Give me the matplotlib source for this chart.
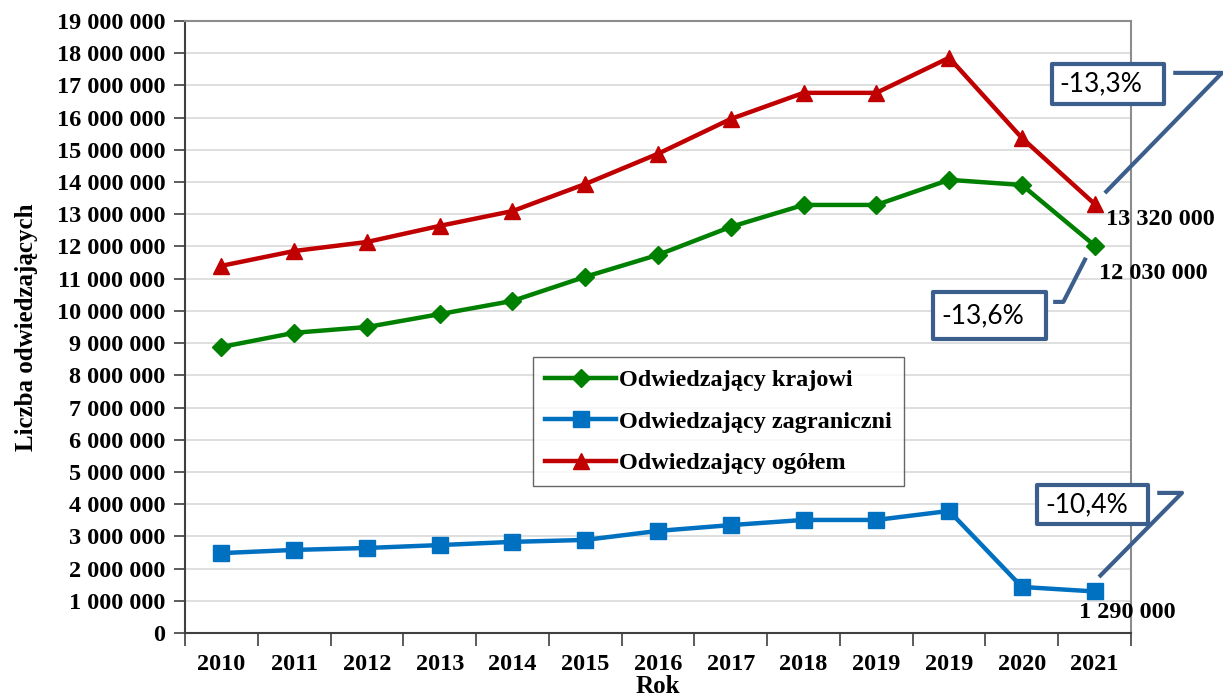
import matplotlib
matplotlib.use("Agg")
import matplotlib.pyplot as plt
from matplotlib.ticker import FuncFormatter, MultipleLocator
from matplotlib.patches import Rectangle

years = ["2010", "2011", "2012", "2013", "2014", "2015", "2016", "2017",
         "2018", "2019", "2019", "2020", "2021"]
krajowi = [8.88, 9.32, 9.50, 9.90, 10.31, 11.06, 11.74, 12.61,
           13.29, 13.29, 14.07, 13.91, 12.03]
zagraniczni = [2.48, 2.58, 2.64, 2.73, 2.83, 2.89, 3.17, 3.35,
               3.51, 3.51, 3.79, 1.43, 1.29]
ogolem = [11.40, 11.86, 12.14, 12.64, 13.10, 13.94, 14.88, 15.96,
          16.77, 16.77, 17.86, 15.37, 13.32]
labels = ["Odwiedzający krajowi", "Odwiedzający zagraniczni", "Odwiedzający ogółem"]
end_labels = ["12 030 000", "1 290 000", "13 320 000"]
changes = ["-13,6%", "-10,4%", "-13,3%"]

SERIF = "Liberation Serif"
BOX = "#3B5E8C"
FS = 17.5

fig = plt.figure(figsize=(12.23, 6.96), dpi=100)
ax = fig.add_axes([0.1513, 0.0905, 0.7735, 0.8793])

x = list(range(len(years)))
M = 1_000_000
ax.plot(x, [v * M for v in krajowi], color="#008000", lw=3.2, marker="D", ms=9,
        label=labels[0])
ax.plot(x, [v * M for v in zagraniczni], color="#0070C0", lw=3.2, marker="s", ms=11,
        label=labels[1])
ax.plot(x, [v * M for v in ogolem], color="#C00000", lw=3.2, marker="^", ms=11,
        label=labels[2])

ax.set_xlim(-0.5, len(years) - 0.5)
ax.set_ylim(0, 19 * M)
ax.yaxis.set_major_locator(MultipleLocator(M))
ax.yaxis.set_major_formatter(FuncFormatter(lambda v, p: f"{int(v):,}".replace(",", " ")))
ax.set_xticks(x)
ax.set_xticklabels(years)
ax.set_xticks([i - 0.5 for i in range(len(years) + 1)], minor=True)
ax.tick_params(axis="x", which="major", length=0, pad=15)
ax.tick_params(axis="x", which="minor", length=9, width=1.2, color="#404040")
ax.tick_params(axis="y", length=8, width=1.2, color="#404040", pad=6)
for lab in ax.get_xticklabels() + ax.get_yticklabels():
    lab.set_fontfamily(SERIF)
    lab.set_fontweight("bold")
    lab.set_fontsize(FS)
ax.grid(axis="y", color="#d9d9d9", lw=1.2)
ax.set_axisbelow(True)
for s in ("left", "bottom"):
    ax.spines[s].set_color("#404040")
    ax.spines[s].set_linewidth(1.5)
for s in ("top", "right"):
    ax.spines[s].set_color("#8c8c8c")
    ax.spines[s].set_linewidth(1.5)

ax.set_ylabel("Liczba odwiedzających", fontfamily=SERIF, fontweight="bold",
              fontsize=18, labelpad=14)
ax.set_xlabel("Rok", fontfamily=SERIF, fontweight="bold", fontsize=18, labelpad=0)

leg = ax.legend(loc="upper left", bbox_to_anchor=(0.368, 0.451), frameon=True,
                fancybox=False, edgecolor="#404040", handlelength=2.9,
                handletextpad=0.15, borderpad=0.5, labelspacing=0.8,
                borderaxespad=0,
                prop={"family": SERIF, "weight": "bold", "size": FS})
leg.get_frame().set_linewidth(1.0)

# values at the last point
ax.text(12.80, 11.15 * M, end_labels[0], ha="center", va="center", fontfamily=SERIF,
        fontweight="bold", fontsize=FS, clip_on=False)
ax.text(12.45, 0.65 * M, end_labels[1], ha="center", va="center", fontfamily=SERIF,
        fontweight="bold", fontsize=FS, clip_on=False)
ax.text(12.91, 12.83 * M, end_labels[2], ha="center", va="center", fontfamily=SERIF,
        fontweight="bold", fontsize=FS, clip_on=False)

# callouts: (box x0, x1, y0, y1), leader line points
callouts = [
    (changes[0], (9.78, 11.33, 9.13, 10.59), [(11.43, 10.28), (11.57, 10.28), (11.88, 11.65)]),
    (changes[1], (11.21, 12.73, 3.39, 4.60), [(12.86, 4.35), (13.20, 4.35), (12.06, 1.74)]),
    (changes[2], (11.41, 12.95, 16.43, 17.67), [(13.08, 17.39), (13.75, 17.39), (12.14, 13.66)]),
]
for txt, (x0, x1, y0, y1), pts in callouts:
    ax.add_patch(Rectangle((x0, y0 * M), x1 - x0, (y1 - y0) * M, facecolor="white",
                           edgecolor=BOX, lw=3, clip_on=False, zorder=5,
                           joinstyle="round"))
    ax.text(x0 + 0.11, (y0 + y1) / 2 * M, txt, ha="left", va="center",
            fontfamily="Lato", fontsize=19, zorder=6, clip_on=False)
    ax.plot([p[0] for p in pts], [p[1] * M for p in pts], color=BOX, lw=3,
            clip_on=False, zorder=5, solid_capstyle="butt")

fig.savefig("out.png", dpi=100)
